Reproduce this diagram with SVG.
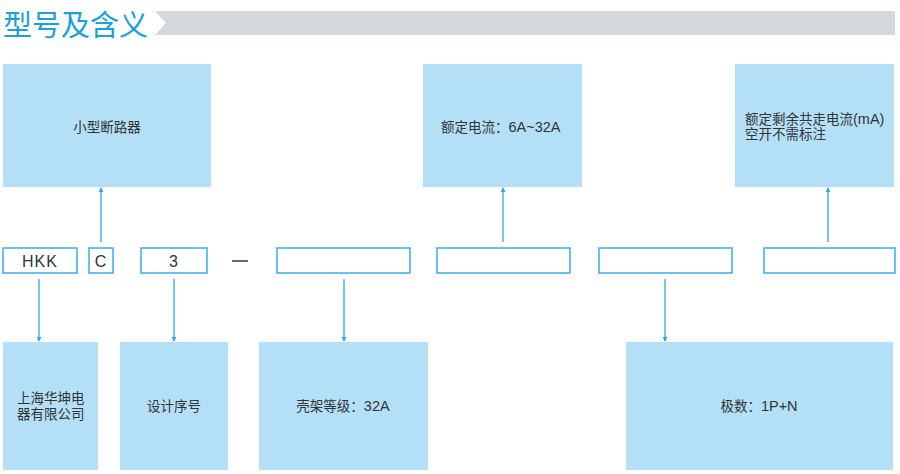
<svg xmlns="http://www.w3.org/2000/svg" width="900" height="474" viewBox="0 0 900 474">
<style>
.box{fill:#b3e0f7;}
.code{fill:#ffffff;stroke:#3aabef;stroke-width:1.5;}
.t{font-family:"Liberation Sans","Noto Sans CJK SC",sans-serif;font-size:13.5px;fill:#333333;}
.c{text-anchor:middle;dominant-baseline:central;}
.l{font-size:14.5px;}
.k{font-family:"Liberation Sans","Noto Sans CJK SC",sans-serif;font-size:16px;fill:#333333;text-anchor:middle;dominant-baseline:central;letter-spacing:1px;}
.ln{stroke:#2ea7e8;stroke-width:1.3;fill:none;}
</style>
<defs>
<marker id="ah" viewBox="0 0 6 6" refX="5" refY="3" markerWidth="5" markerHeight="5" orient="auto" markerUnits="userSpaceOnUse">
<path d="M0,0 L6,3 L0,6 z" fill="#2ea7e8"/>
</marker>
</defs>
<rect width="900" height="474" fill="#ffffff"/>
<g id="title">
<text x="3" y="23" font-family="Noto Sans CJK SC,sans-serif" font-size="29" fill="#1a9fe0" dominant-baseline="central" font-weight="400">型号及含义</text>
<path d="M155,11 L895,11 L895,35 L155,35 L166,23 z" fill="#d4d8db"/>
</g>
<g id="node-msb"><rect class="box" x="3" y="64" width="208" height="123"/><text class="t c" x="107" y="127">小型断路器</text></g>
<g id="node-rated"><rect class="box" x="423" y="64" width="159" height="123"/><text class="t" x="441" y="127" dominant-baseline="central">额定电流：<tspan class="l">6A~32A</tspan></text></g>
<g id="node-residual"><rect class="box" x="735" y="64" width="159" height="123"/><text class="t" x="745" y="124" font-size="13">额定剩余共走电流<tspan class="l">(mA)</tspan></text><text class="t" x="745" y="139" font-size="13">空开不需标注</text></g>
<g id="code-hkk"><rect class="code" x="3" y="248" width="74" height="25"/><text class="k" x="40" y="261">HKK</text></g>
<g id="code-c"><rect class="code" x="89" y="248" width="24" height="25"/><text class="k" x="101" y="261">C</text></g>
<g id="code-3"><rect class="code" x="141" y="248" width="66" height="25"/><text class="k" x="174" y="261">3</text></g>
<g id="dash"><line x1="232" y1="261" x2="248" y2="261" stroke="#333333" stroke-width="1.5"/></g>
<g id="code-frame"><rect class="code" x="277" y="248" width="133" height="25"/></g>
<g id="code-current"><rect class="code" x="437" y="248" width="133" height="25"/></g>
<g id="code-poles"><rect class="code" x="599" y="248" width="133" height="25"/></g>
<g id="code-res"><rect class="code" x="764" y="248" width="131" height="25"/></g>
<g id="node-company"><rect class="box" x="3" y="342" width="95" height="128"/><text class="t" x="17" y="398" dominant-baseline="central">上海华坤电</text><text class="t" x="17" y="414" dominant-baseline="central">器有限公司</text></g>
<g id="node-design"><rect class="box" x="120" y="342" width="108" height="128"/><text class="t c" x="174" y="406">设计序号</text></g>
<g id="node-frame"><rect class="box" x="259" y="342" width="169" height="128"/><text class="t c" x="343" y="406">壳架等级：<tspan class="l">32A</tspan></text></g>
<g id="node-poles"><rect class="box" x="626" y="342" width="267" height="128"/><text class="t c" x="759" y="406">极数：<tspan class="l">1P+N</tspan></text></g>
<g id="connectors">
<line class="ln" x1="39" y1="279" x2="39" y2="341" marker-end="url(#ah)"/>
<line class="ln" x1="174" y1="279" x2="174" y2="341" marker-end="url(#ah)"/>
<line class="ln" x1="344" y1="279" x2="344" y2="341" marker-end="url(#ah)"/>
<line class="ln" x1="665" y1="279" x2="665" y2="341" marker-end="url(#ah)"/>
<line class="ln" x1="101" y1="242" x2="101" y2="188" marker-end="url(#ah)"/>
<line class="ln" x1="503" y1="242" x2="503" y2="188" marker-end="url(#ah)"/>
<line class="ln" x1="828" y1="242" x2="828" y2="188" marker-end="url(#ah)"/>
</g>
</svg>
